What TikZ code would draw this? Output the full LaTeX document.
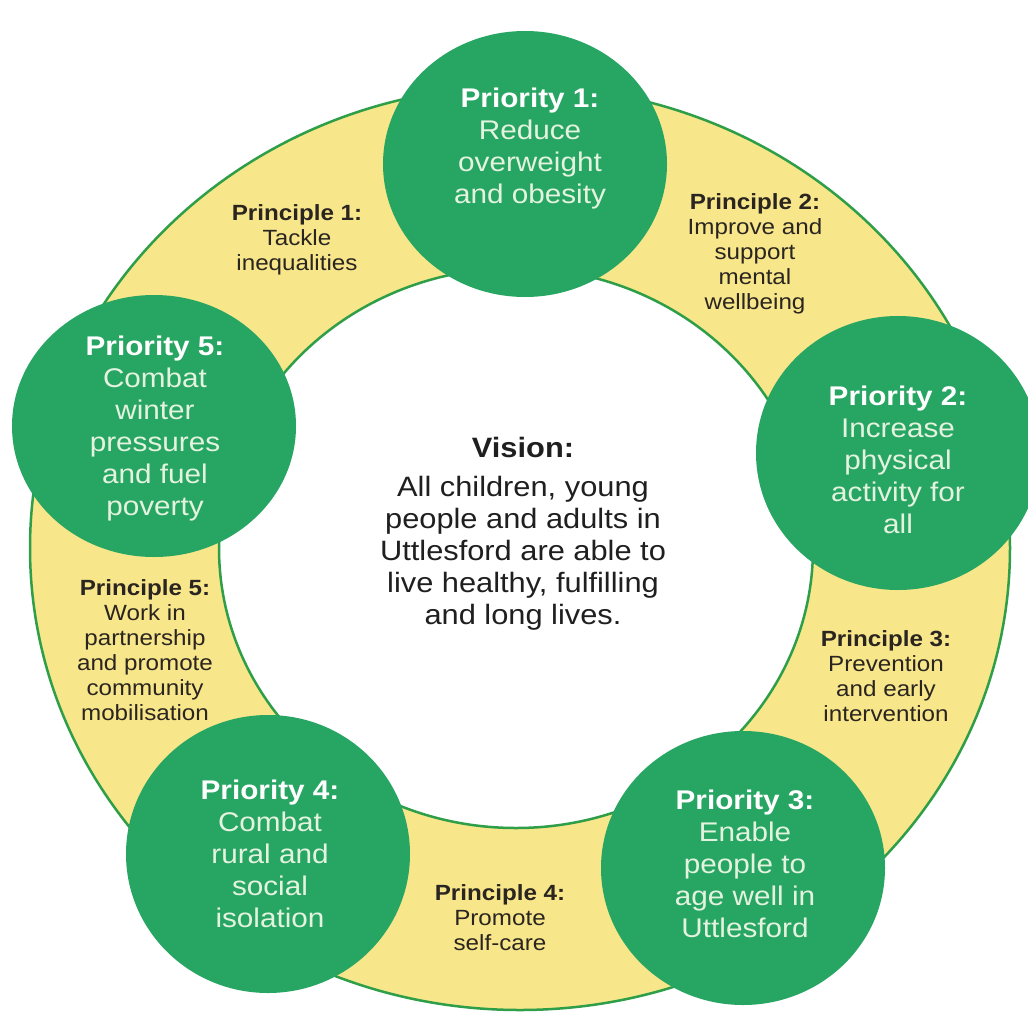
\documentclass[tikz,border=0pt]{standalone}
\usepackage{fontspec}
\setmainfont[FakeStretch=1.1]{Liberation Sans}
\usetikzlibrary{shapes.geometric}
\definecolor{pgreen}{HTML}{27A563}
\definecolor{ringy}{HTML}{F7E68A}
\definecolor{ringline}{HTML}{2E9E48}
\definecolor{pbody}{HTML}{E4F3DF}
\definecolor{dtext}{HTML}{2A2520}
\begin{document}
\begin{tikzpicture}[x=1pt,y=-1pt,
  pcirc/.style={ellipse, fill=pgreen, minimum width=284pt, minimum height=270pt, inner sep=0pt},
  ptext/.style={align=center, text=pbody, font=\fontsize{27}{32}\selectfont},
  prtext/.style={align=center, text=dtext, font=\fontsize{22}{25}\selectfont},
  vtext/.style={align=center, text=black!88, font=\fontsize{28}{32}\selectfont},
  ringedge/.style={draw=ringline, line width=2.5pt}]
\fill[white] (0,0) rectangle (1028,1012);
\useasboundingbox (0,0) rectangle (1028,1012);
\clip (0,0) rectangle (1028,1012);
% ring
\coordinate (oc) at (520,548);
\coordinate (ic) at (516,548);
\fill[ringy, even odd rule] (oc) ellipse [x radius=490pt, y radius=462pt]
  (ic) ellipse [x radius=297pt, y radius=280pt];
\draw[ringedge] (oc) ellipse [x radius=490pt, y radius=462pt];
\draw[ringedge] (ic) ellipse [x radius=297pt, y radius=280pt];
% priority circles
\node[pcirc, minimum height=266pt] (p1) at (525,164) {};
\node[pcirc, minimum height=274pt] (p2) at (898,453) {};
\node[pcirc, minimum height=274pt] (p3) at (743,868) {};
\node[pcirc, minimum height=278pt] (p4) at (268,854) {};
\node[pcirc, minimum height=262pt] (p5) at (154,426) {};
% priority texts
\node[ptext] (t1) at (530,149) {{\color{white}\bfseries Priority 1:}\\Reduce\\overweight\\and obesity};
\node[ptext] (t2) at (898,460) {{\color{white}\bfseries Priority 2:}\\Increase\\physical\\activity for\\all};
\node[ptext] (t3) at (745,864) {{\color{white}\bfseries Priority 3:}\\Enable\\people to\\age well in\\Uttlesford};
\node[ptext] (t4) at (270,854) {{\color{white}\bfseries Priority 4:}\\Combat\\rural and\\social\\isolation};
\node[ptext] (t5) at (155,429) {{\color{white}\bfseries Priority 5:}\\Combat\\winter\\pressures\\and fuel\\poverty};
% principle texts
\node[prtext] (r1) at (297,240) {\textbf{Principle 1:}\\Tackle\\inequalities};
\node[prtext] (r2) at (755,254) {\textbf{Principle 2:}\\Improve and\\support\\mental\\wellbeing};
\node[prtext] (r3) at (886,676) {\textbf{Principle 3:}\\Prevention\\and early\\intervention};
\node[prtext] (r4) at (500,918) {\textbf{Principle 4:}\\Promote\\self-care};
\node[prtext] (r5) at (145,650) {\textbf{Principle 5:}\\Work in\\partnership\\and promote\\community\\mobilisation};
% vision
\node[vtext] (v) at (523,534) {\textbf{Vision:}\\[7pt]All children, young\\people and adults in\\Uttlesford are able to\\live healthy, fulfilling\\and long lives.};
\end{tikzpicture}
\end{document}
